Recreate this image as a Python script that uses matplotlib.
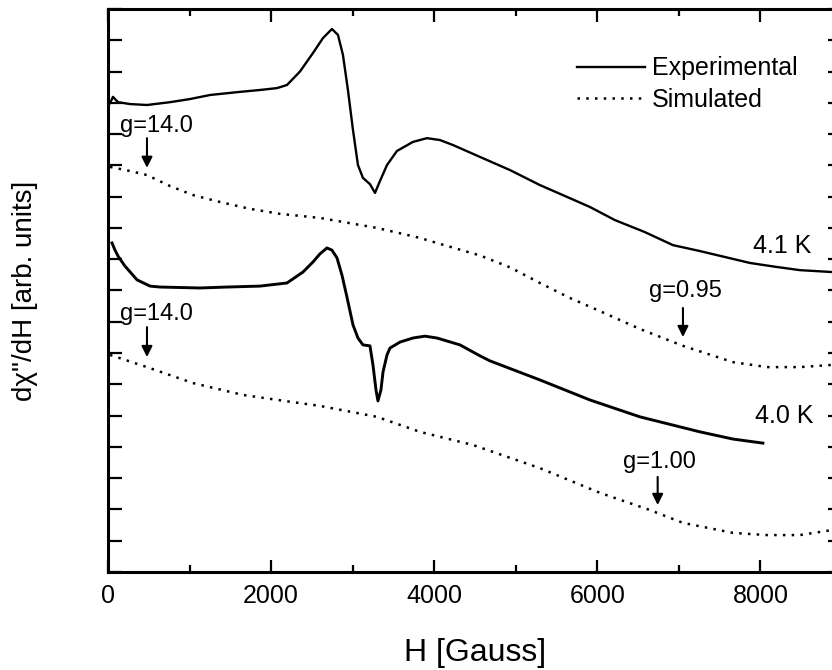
import matplotlib
matplotlib.use("Agg")
import matplotlib.pyplot as plt
from matplotlib.ticker import MultipleLocator

plt.rcParams['font.family'] = ['Liberation Sans', 'DejaVu Sans']

# 4.1 K experimental trace
h_exp41 = [25, 61, 123, 270, 478, 760, 1005, 1251, 1619, 1864, 2072, 2195, 2354,
           2513, 2636, 2746, 2820, 2881, 2942, 3004, 3065, 3126, 3212, 3274, 3335,
           3421, 3543, 3739, 3911, 4070, 4230, 4561, 4929, 5296, 5603, 5909, 6216,
           6580, 6927, 7258, 7565, 7871, 8177, 8484, 8876, 9000]
y_exp41 = [14.99, 15.19, 15.02, 14.96, 14.93, 15.02, 15.12, 15.25, 15.35, 15.41,
           15.47, 15.57, 16.00, 16.59, 17.07, 17.36, 17.17, 16.53, 15.41, 14.13,
           13.01, 12.60, 12.40, 12.12, 12.50, 13.01, 13.46, 13.75, 13.87, 13.81,
           13.65, 13.27, 12.85, 12.37, 12.02, 11.67, 11.25, 10.87, 10.45, 10.26,
           10.07, 9.88, 9.76, 9.65, 9.59, 9.56]

# 4.1 K simulated
h_sim41 = [25, 270, 478, 760, 1042, 1373, 1741, 2109, 2599, 3298, 3825, 4070,
           4561, 4929, 5296, 5664, 6032, 6522, 7050, 7663, 8079, 8484, 8876, 9000]
y_sim41 = [12.95, 12.82, 12.69, 12.34, 12.05, 11.83, 11.61, 11.45, 11.32, 11.00,
           10.68, 10.49, 10.12, 9.74, 9.24, 8.76, 8.34, 7.77, 7.23, 6.71, 6.55,
           6.55, 6.62, 6.68]

# 4.0 K experimental trace
h_exp40 = [49, 86, 123, 208, 356, 515, 638, 1128, 1459, 1864, 2195, 2391, 2513,
           2599, 2685, 2746, 2808, 2869, 2930, 3004, 3065, 3126, 3212, 3249, 3286,
           3310, 3347, 3372, 3421, 3458, 3580, 3739, 3886, 4034, 4316, 4561, 4683,
           5296, 5909, 6522, 7258, 7663, 8030]
y_exp40 = [10.52, 10.29, 10.10, 9.78, 9.34, 9.14, 9.11, 9.08, 9.11, 9.14, 9.24,
           9.59, 9.91, 10.17, 10.36, 10.29, 10.04, 9.49, 8.79, 7.90, 7.48, 7.26,
           7.23, 6.62, 5.82, 5.47, 5.82, 6.39, 6.94, 7.16, 7.35, 7.48, 7.54, 7.48,
           7.26, 6.91, 6.75, 6.14, 5.50, 4.96, 4.48, 4.25, 4.12]

# 4.0 K simulated
h_sim40 = [25, 478, 1042, 1655, 2268, 2599, 3298, 3825, 4475, 5296, 6032, 6645,
           7050, 7663, 8079, 8484, 8876, 9000]
y_sim40 = [6.94, 6.55, 6.04, 5.66, 5.43, 5.31, 4.96, 4.48, 4.06, 3.32, 2.53, 1.98,
           1.57, 1.25, 1.18, 1.18, 1.34, 1.41]

# g-value markers: label, field, text position, arrow start, arrow tip
g_labels = ["g=14.0", "g=14.0", "g=0.95", "g=1.00"]
g_fields = [478, 478, 7050, 6740]
g_text_x = [147, 147, 7086, 6767]
g_text_y = [14.07, 8.06, 8.79, 3.32]
g_arrow_from = [13.87, 7.83, 8.44, 3.04]
g_arrow_to = [12.92, 6.87, 7.51, 2.14]
g_align = ['left', 'left', 'center', 'center']

temp_labels = ["4.1 K", "4.0 K"]
temp_x = [7908, 7932]
temp_y = [10.20, 4.76]

fig = plt.figure(figsize=(8.32, 6.70), dpi=100)
ax = fig.add_axes([0.1298, 0.1463, 0.8822, 0.8403])

dots = (0, (1, 2.5))
ax.plot(h_exp41, y_exp41, color='k', lw=1.7, label='Experimental')
ax.plot(h_sim41, y_sim41, color='k', lw=1.8, ls=dots, label='Simulated')
ax.plot(h_exp40, y_exp40, color='k', lw=2.1)
ax.plot(h_sim40, y_sim40, color='k', lw=1.8, ls=dots)

for lab, hf, tx, ty, a0, a1, al in zip(g_labels, g_fields, g_text_x, g_text_y,
                                       g_arrow_from, g_arrow_to, g_align):
    ax.text(tx, ty, lab, fontsize=17, ha=al, va='baseline')
    ax.annotate('', xy=(hf, a1), xytext=(hf, a0),
                arrowprops=dict(arrowstyle='-|>', color='k', lw=1.5,
                                mutation_scale=16, shrinkA=0, shrinkB=0))

for lab, tx, ty in zip(temp_labels, temp_x, temp_y):
    ax.text(tx, ty, lab, fontsize=18, ha='left', va='baseline')

ax.set_xlim(0, 9000)
ax.set_ylim(0, 18)
ax.xaxis.set_major_locator(MultipleLocator(2000))
ax.xaxis.set_minor_locator(MultipleLocator(1000))
ax.yaxis.set_major_locator(MultipleLocator(1))
ax.set_yticklabels([])
ax.tick_params(axis='x', which='major', direction='in', length=9, width=1.6,
               top=True, labelsize=18, pad=9)
ax.tick_params(axis='x', which='minor', direction='in', length=5, width=1.6, top=True)
ax.tick_params(axis='y', which='major', direction='in', length=10, width=1.6,
               right=True, left=True)
for sp in ax.spines.values():
    sp.set_linewidth(2.2)

ax.set_xlabel('H [Gauss]', fontsize=23, labelpad=21)
ax.set_ylabel('dχ"/dH [arb. units]', fontsize=20)
ax.yaxis.set_label_coords(-0.095, 0.5)

ax.legend(loc='upper left', bbox_to_anchor=(0.639, 0.916), frameon=False,
          fontsize=18, handlelength=2.7, handletextpad=0.3, labelspacing=0.3,
          borderpad=0, borderaxespad=0)

fig.savefig('out.png', dpi=100)
